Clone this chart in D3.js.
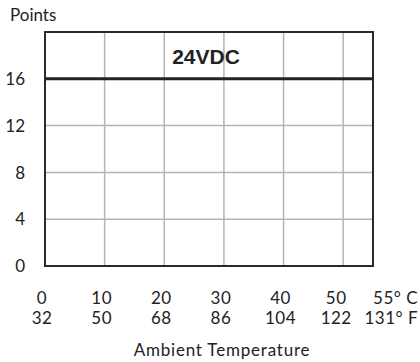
<!DOCTYPE html>
<html>
<head>
<meta charset="utf-8">
<script src="https://cdnjs.cloudflare.com/ajax/libs/d3/7.8.5/d3.min.js"></script>
<style>
  body { margin: 0; background: #fff; }
  text { font-family: Lato, "Noto Sans", sans-serif; fill: #222; }
</style>
</head>
<body>
<svg id="chart" width="420" height="362"></svg>
<script>
// data
const yTicks = [0, 4, 8, 12, 16]
const xTicks = [0, 10, 20, 30, 40, 50, 55]
const celsiusLabels = ["0", "10", "20", "30", "40", "50", "55\u00b0 C"]
const fahrLabels = ["32", "50", "68", "86", "104", "122", "131\u00b0 F"]
const lineTemps = [0, 55]
const linePoints = [16, 16]
const seriesName = "24VDC"

const svg = d3.select("#chart")
const plotL = 45, plotR = 373, plotT = 32, plotB = 266

var x = d3.scaleLinear().domain([0, 55]).range([plotL, plotR])
var y = d3.scaleLinear().domain([0, 20]).range([plotB, plotT])

// grid
svg.append("g").selectAll("line").data(xTicks.slice(1, -1)).enter().append("line")
  .attr("x1", d => x(d)).attr("x2", d => x(d))
  .attr("y1", plotT).attr("y2", plotB)
  .style("stroke", "#b4b4b4").style("stroke-width", 1.5)
svg.append("g").selectAll("line").data(yTicks.slice(1)).enter().append("line")
  .attr("x1", plotL).attr("x2", plotR)
  .attr("y1", d => y(d)).attr("y2", d => y(d))
  .style("stroke", "#b4b4b4").style("stroke-width", 1.5)

// frame
svg.append("rect")
  .attr("x", plotL).attr("y", plotT)
  .attr("width", plotR - plotL).attr("height", plotB - plotT)
  .style("fill", "none").style("stroke", "#2a2a2a").style("stroke-width", 2)

// the series line
svg.append("path")
  .datum(d3.zip(lineTemps, linePoints))
  .attr("d", d3.line().x(d => x(d[0])).y(d => y(d[1])))
  .style("fill", "none").style("stroke", "#222").style("stroke-width", 3)

svg.append("text")
  .attr("x", 206).attr("y", 64)
  .attr("text-anchor", "middle")
  .style("font-family", "'Liberation Sans', Arial, sans-serif")
  .style("font-weight", "bold").style("font-size", "21px")
  .text(seriesName)

// y labels
svg.append("g").selectAll("text").data(yTicks).enter().append("text")
  .attr("x", 25).attr("y", d => y(d)).attr("dy", "0.36em")
  .attr("text-anchor", "end").style("font-size", "17px")
  .text(d => d)

svg.append("text").attr("x", 10).attr("y", 21)
  .style("font-size", "17px").text("Points")

// x labels (two rows, C and F)
function xLabelX(d, i) {
  if (i === xTicks.length - 1) return x(d) + 45
  if (i === xTicks.length - 2) return x(d) - 7
  return x(d) - 3
}
function anchor(d, i) { return i === xTicks.length - 1 ? "end" : "middle" }
svg.append("g").selectAll("text").data(xTicks).enter().append("text")
  .attr("x", xLabelX).attr("y", 304).attr("text-anchor", anchor)
  .style("font-size", "17px").style("letter-spacing", "0.5px")
  .text((d, i) => celsiusLabels[i])
svg.append("g").selectAll("text").data(xTicks).enter().append("text")
  .attr("x", xLabelX).attr("y", 324).attr("text-anchor", anchor)
  .style("font-size", "17px").style("letter-spacing", "0.5px")
  .text((d, i) => fahrLabels[i])

svg.append("text").attr("x", 222).attr("y", 356)
  .attr("text-anchor", "middle").style("font-size", "17px")
  .style("letter-spacing", "0.8px")
  .text("Ambient Temperature")
</script>
</body>
</html>
